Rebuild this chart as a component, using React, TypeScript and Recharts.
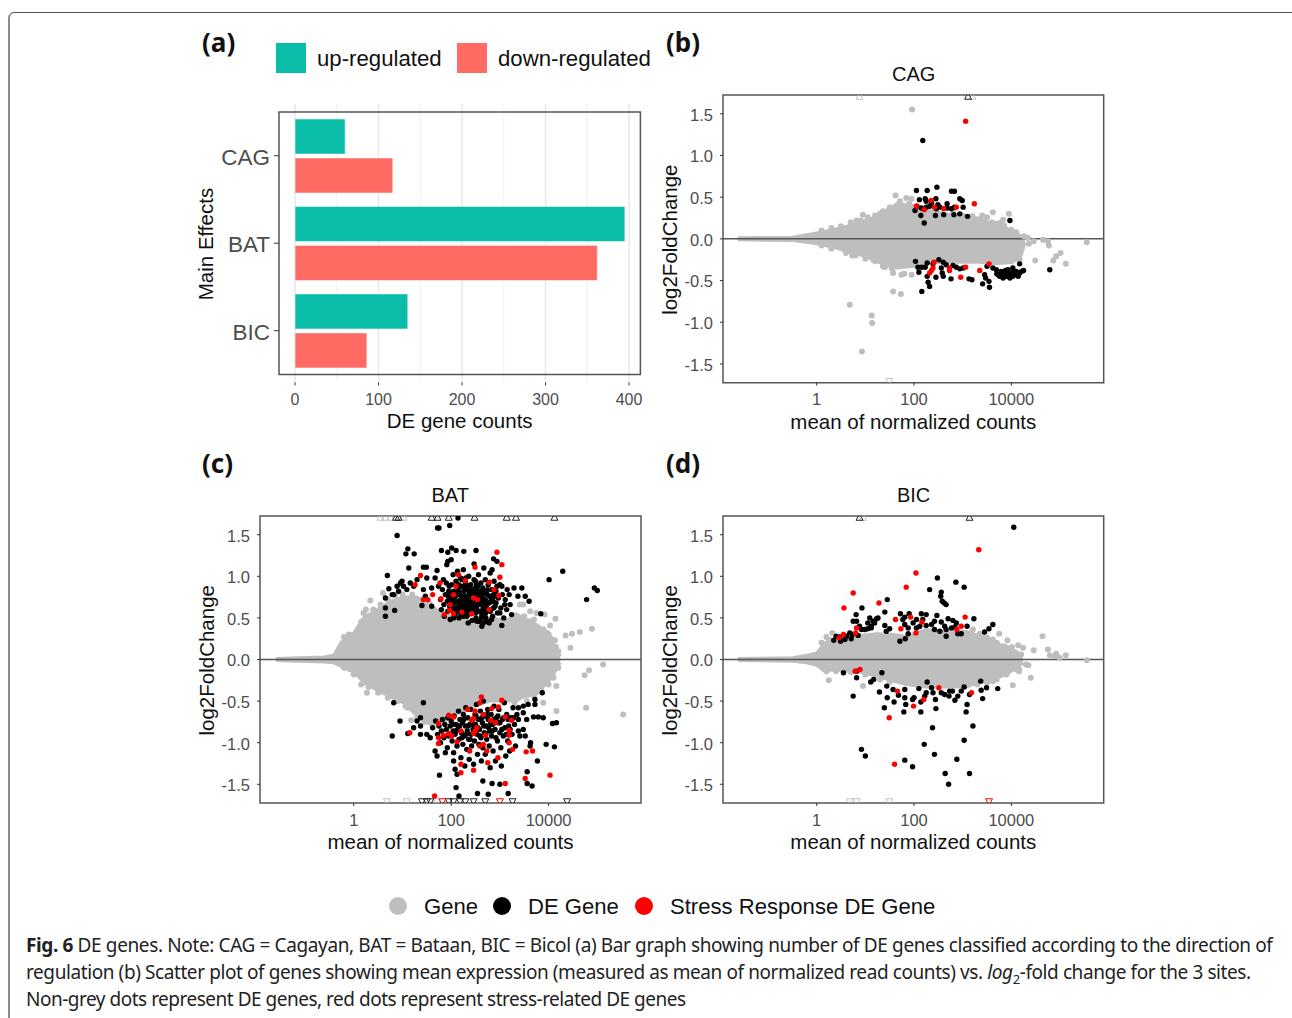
import React from 'react';
import { ComposedChart, BarChart, Bar, Area, Scatter, XAxis, YAxis, CartesianGrid, ReferenceLine, ReferenceArea } from 'recharts';

type P = [number, number];

const sites = ['CAG', 'BAT', 'BIC'];
const upCounts = [60, 395, 135];
const downCounts = [117, 362, 86];
const countTicks = [0, 100, 200, 300, 400];
const countMinor = [50, 150, 250, 350];
const foldTicks = [-1.5, -1, -0.5, 0, 0.5, 1, 1.5];
const log10Ticks = [0, 2, 4];

// Envelope of the dense grey cloud: [log10 mean count, low fold change, high fold change]
const cagCloud: [number, number, number][] = [[-1.62,-.012,.012],[-.49,-.02,.02],[-.21,-.04,.05],[0,-.06,.07],[.34,-.1,.11],[.61,-.15,.15],[.88,-.19,.2],[1.16,-.25,.25],[1.43,-.32,.32],[1.64,-.35,.42],[2,-.33,.4],[2.25,-.29,.35],[2.66,-.28,.3],[2.94,-.28,.26],[3.35,-.28,.25],[3.62,-.3,.17],[3.9,-.29,.13],[4.1,-.26,.07],[4.2,-.2,.03],[4.28,-.05,.02]];
const batCloud: [number, number, number][] = [[-1.6,-.012,.012],[-.61,-.03,.03],[-.41,-.04,.05],[-.27,-.08,.2],[-.14,-.12,.27],[0,-.15,.32],[.2,-.27,.5],[.48,-.37,.6],[.75,-.45,.7],[1.02,-.52,.75],[1.3,-.68,.75],[1.57,-.78,.65],[1.84,-.75,.55],[2.12,-.65,.5],[2.53,-.55,.45],[2.8,-.5,.5],[3.14,-.5,.47],[3.34,-.5,.55],[3.48,-.45,.5],[3.75,-.42,.42],[4.03,-.24,.28],[4.16,-.12,.12],[4.24,-.04,.04]];
const bicCloud: [number, number, number][] = [[-1.62,-.012,.012],[-.49,-.02,.02],[-.21,-.04,.05],[0,-.07,.08],[.13,-.13,.17],[.27,-.13,.25],[.47,-.13,.26],[.88,-.15,.29],[1.23,-.2,.31],[1.57,-.26,.3],[1.84,-.3,.28],[2.25,-.33,.36],[2.66,-.33,.33],[3.08,-.33,.34],[3.35,-.27,.28],[3.62,-.24,.2],[3.9,-.18,.16],[4.1,-.1,.1],[4.24,-.04,.04]];

const cagGrey: P[] = [[1.96,1.55],[.68,-.79],[1.13,-.92],[1.14,-1.01],[.93,-1.35],[1.57,-.63],[1.73,-.66],[5.55,-.04],[5.12,-.3],[5.01,-.17],[4.92,-.21],[4.86,-.26],[4.49,-.26],[4.77,-.08],[4.75,-.03],[4.65,-.01],[4.46,-.03],[4.36,-.06],[4.26,.03],[4.34,.01],[3.95,.3],[3.62,.32],[3.76,.19],[4.03,.08],[3.83,.23],[.95,.29],[.82,.22],[1.36,.33],[1.47,.34],[1.62,.52],[1.84,.49],[1.95,.48],[1.71,.45],[1.57,-.41],[1.74,-.43],[1.95,-.43],[1.36,-.33],[.71,-.11],[.73,-.2],[1.16,-.25],[4.17,-.25],[4,-.27],[3.76,-.27],
[.1,.1],[.3,.13],[.5,.15],[.7,.2],[.9,.22],[1.05,.26],[1.2,.28],[1.3,.3],[1.5,.38],[1.7,.4],[1.9,.42],[2.8,.32],[3,.28],[3.2,.27],[3.4,.28],[3.5,.26],[3.6,.2],[3.7,.18],[3.85,.16],[4,.11],[4.1,.08],[.1,-.08],[.3,-.12],[.6,-.17],[.8,-.2],[1,-.24],[1.2,-.27],[1.4,-.34],[1.55,-.36],[1.8,-.42]];
const cagBlack: P[] = [[2.18,1.18],[2.05,.58],[2.27,.58],[2.47,.62],[2.77,.57],[2.83,.57],[2.11,.47],[2.23,.48],[2.25,.45],[2.45,.48],[2.36,.43],[2.49,.41],[2.68,.42],[2.94,.48],[2.99,.46],[2.02,.34],[2.06,.39],[2.15,.37],[2.25,.38],[2.32,.39],[2.46,.36],[2.53,.38],[2.68,.37],[2.77,.36],[2.83,.38],[3.01,.38],[2.14,.28],[2.44,.28],[2.61,.29],[2.82,.29],[2.94,.3],[3.1,.27],[2.21,.19],[3.97,.22],[2.03,-.27],[2.08,-.34],[2.16,-.34],[2.23,-.34],[2.1,-.4],[2.27,-.29],[2.39,-.3],[2.51,-.25],[2.6,-.28],[2.66,-.31],[2.56,-.35],[2.58,-.41],[2.6,-.45],[2.27,-.45],[2.45,-.46],[2.29,-.52],[2.32,-.57],[2.16,-.63],[2.76,-.48],[2.8,-.32],[2.87,-.34],[2.94,-.36],[3.01,-.35],[3.13,-.48],[3.19,-.49],[3.41,-.54],[3.54,-.51],[3.55,-.58],[3.45,-.43],[3.47,-.47],[3.5,-.33],[3.62,-.35],[3.69,-.37],[3.73,-.43],[3.76,-.45],[3.79,-.39],[3.83,-.47],[3.86,-.41],[3.9,-.45],[3.93,-.37],[3.97,-.47],[4,-.41],[4.03,-.35],[4.03,-.45],[4.07,-.43],[4.1,-.39],[4.14,-.45],[4.17,-.41],[4.21,-.39],[4.25,-.38],[4.17,-.3],[4.79,-.37],[3.7,-.42],[3.8,-.44],[3.88,-.38],[3.95,-.42],[4.05,-.4],[4.12,-.42]];
const cagRed: P[] = [[3.06,1.41],[2.05,.39],[2.35,.46],[2.21,.35],[2.42,.38],[2.61,.36],[2.87,.38],[3.24,.42],[2.41,-.28],[2.39,-.35],[2.36,-.38],[2.32,-.41],[2.73,-.35],[2.73,-.38],[3.06,-.34],[2.96,-.46],[3.35,-.38],[3.54,-.3]];

const batGrey: P[] = [[5.53,-.66],[5.12,-.06],[4.83,-.13],[4.74,-.19],[4.77,-.58],[4.16,-.32],[4.16,-.62],[3.89,-.52],[4.89,.37],[4.64,.33],[4.48,.31],[4.35,.29],[4.45,.14],[4.14,.49],[4.03,.41],[3.92,.54],[3.75,.56],[3.62,.58],[3.56,.44],[3.62,.46],[3.48,.66],[3.41,.66],[3.97,.32],[4.13,.23],[.34,.71],[.6,.8],[.2,.56],[.25,.6],[.27,-.4],[.2,-.28],[1.18,-.73],[1.06,-.56],[3.89,-.28],
[-.2,.27],[-.1,.3],[.1,.38],[.15,.45],[.3,.52],[.4,.6],[.55,.66],[.7,.72],[.85,.77],[1,.78],[1.2,.78],[1.4,.72],[1.55,.68],[3.3,.5],[3.4,.45],[3.5,.52],[3.6,.42],[3.7,.48],[3.8,.38],[3.9,.36],[4,.3],[4.05,.25],[4.15,.15],[4.2,.1],[-.2,-.1],[0,-.18],[.15,-.3],[.3,-.33],[.5,-.4],[.7,-.46],[.9,-.5],[1.1,-.58],[1.3,-.7],[1.45,-.75],[3.3,-.52],[3.55,-.5],[3.7,-.44],[3.85,-.38],[4,-.3],[4.1,-.22],[4.2,-.1]];
const batBlack: P[] = [[.89,1.49],[1.72,1.58],[1.75,1.58],[1.97,1.61],[2.14,1.7],[1.11,1.33],[1.24,1.27],[1.07,1.27],[1.13,1.1],[.69,1.01],[.72,.85],[.65,.74],[.65,.62],[.65,.52],[.84,.59],[.89,.88],[.99,.94],[1.02,.88],[.92,.82],[.82,.78],[1.43,1.11],[1.49,1.11],[1.71,1.07],[1.8,1.31],[1.93,1.29],[2.01,1.34],[2.1,1.31],[2.26,1.3],[2.51,1.31],[1.93,1.18],[1.91,1.14],[2,1.2],[2.47,1.15],[2.87,1.21],[2.94,1.18],[2.84,1.08],[4.29,1.06],[4.01,.96],[4.78,.72],[4.94,.86],[5,.83],[3.84,.55],[3.6,.7],[3.45,.86],[3.29,.86],[3.37,.76],[3.52,.76],[3.19,.78],[3.04,.88],[3.04,.41],[3.24,.54],[3.14,.6],[3.21,.66],[3.11,.72],[3,.56],[2.9,.76],[2.87,.62],[2.83,.48],[2.73,.46],[2.63,.4],[2.66,.44],[2.53,.46],[2.35,.44],[2.25,.52],[.79,.78],[.96,.92],[1.09,.84],[1.16,.92],[1.23,.88],[1.3,.96],[1.43,.84],[1.5,.98],[1.6,.86],[1.67,.98],[1.6,.64],[1.4,.65],[1.47,.76],[1.74,.88],[1.84,.96],
[1.78,.72],[1.8,.6],[1.82,.84],[1.85,.66],[1.86,.52],[1.88,.78],[1.9,.92],[1.92,.7],[1.93,.58],[1.95,.82],[1.97,.64],[1.98,.48],[2,.74],[2.01,.9],[2.03,.6],[2.04,1.02],[2.05,.82],[2.06,.68],[2.08,.54],[2.09,.76],[2.1,.94],[2.12,.62],[2.13,1.06],[2.14,.86],[2.15,.7],[2.16,.5],[2.18,.78],[2.19,.98],[2.2,.64],[2.21,.88],[2.23,.72],[2.24,.56],[2.25,1.08],[2.26,.82],[2.27,.66],[2.29,.94],[2.3,.76],[2.31,.6],[2.32,.52],[2.33,.86],[2.35,.7],[2.36,1],[2.37,.8],[2.38,.62],[2.4,.9],[2.41,.74],[2.42,.56],[2.43,.47],[2.45,.84],[2.46,.68],[2.47,.96],[2.48,.6],[2.5,.78],[2.51,.5],[2.52,.9],[2.54,.7],[2.55,.58],[2.56,1.02],[2.57,.82],[2.58,.46],[2.6,.66],[2.61,.92],[2.62,.76],[2.63,.54],[2.65,.86],[2.66,.62],[2.67,1.1],[2.68,.72],[2.7,.96],[2.71,.5],[2.72,.8],[2.73,.58],[2.75,.68],[2.76,.9],[2.78,.44],[2.79,.76],[2.8,1.04],[2.82,.6],[2.83,.84],[2.85,.52],[2.86,.7],[2.88,.94],[2.9,.64],[2.92,.82],[2.95,.56],[2.97,.74],[3,.9],[3.02,.62],[3.05,.78],[3.08,.5],[3.1,.66],[3.15,.84],[1.96,.88],[2.02,.72],[2.07,.6],[2.11,.8],[2.17,.62],[2.22,.96],[2.28,.72],[2.34,.64],[2.39,.78],[2.44,.72],[2.49,.66],[2.53,.76],[2.59,.72],[2.64,.68],[2.69,.82],[2.74,.78],[2.81,.7],[2.87,.78],[2.25,.6],[2.35,.84],[2.45,.6],[2.55,.88],[2.65,.78],[2.15,.9],[2.05,.5],[2.3,.9],[2.4,.66],[2.5,.86],[2.6,.8],
[1.94,.76],[1.99,.68],[2.03,.8],[2.06,.62],[2.1,.7],[2.13,.58],[2.16,.66],[2.19,.72],[2.21,.6],[2.24,.68],[2.26,.76],[2.28,.64],[2.31,.68],[2.33,.58],[2.36,.72],[2.38,.7],[2.41,.62],[2.43,.8],[2.46,.76],[2.48,.82],[2.5,.7],[2.52,.62],[2.55,.66],[2.57,.76],[2.6,.58],[2.62,.68],[2.64,.82],[2.67,.58],[2.7,.72],[2.72,.64],[2.75,.84],[2.78,.68],[2.8,.58],[2.84,.76],[2.16,.82],[2.26,.88],[2.4,.84],[2.5,.94],[2.3,.98],[2.2,.54],[2.35,.54],[2.5,.56],[2.62,.5],[2.7,.55],[2.92,.68],[2.94,.88],
[.82,-.52],[.79,-.92],[.95,-.74],[1.11,-.89],[1.43,-.52],[1.3,-.74],[1.37,-.7],[1.23,-.82],[1.37,-.8],[1.37,-.9],[1.5,-.9],[1.57,-.94],[1.67,-1.1],[1.71,-1.16],[1.88,-1.12],[1.76,-1.39],[2.05,-1.22],[2.08,-1.32],[2.12,-1.38],[2.1,-1.54],[2.16,-1.64],[2.54,-1.61],[2.76,-1.62],[3.17,-1.61],[2.65,-1.46],[2.84,-1.49],[3,-1.5],[3.56,-1.49],[3.66,-1.52],[3.56,-1.35],[3.77,-1.22],[3.62,-1.04],[3.63,-1],[3.95,-1.02],[4.12,-1.05],[4.08,-.77],[4.16,-.76],[3.89,-.7],[3.79,-.69],[3.69,-.69],[3.87,-.4],[3.72,-.48],[3.72,-.54],[3.58,-.54],[3.48,-.56],[3.38,-.58],[3.48,-.64],[3.38,-.72],[3.55,-.72],[3.48,-.84],[3.52,-.92],[3.41,-.92],
[1.62,-.82],[1.68,-.74],[1.72,-.9],[1.75,-.8],[1.78,-1],[1.8,-.86],[1.82,-.72],[1.85,-.94],[1.87,-.78],[1.9,-.84],[1.92,-1.06],[1.93,-.7],[1.95,-.92],[1.98,-.8],[2,-.74],[2.02,-.98],[2.04,-.86],[2.05,-1.12],[2.06,-.68],[2.08,-.9],[2.1,-.78],[2.12,-1.04],[2.13,-.84],[2.15,-.62],[2.16,-.96],[2.18,-.72],[2.2,-1.18],[2.21,-.88],[2.23,-.76],[2.24,-1.02],[2.25,-.66],[2.27,-.92],[2.28,-1.28],[2.29,-.8],[2.3,-.58],[2.32,-1.08],[2.33,-.86],[2.34,-.7],[2.36,-.96],[2.37,-1.2],[2.38,-.78],[2.4,-.6],[2.41,-.9],[2.42,-1.04],[2.44,-.72],[2.45,-.84],[2.46,-1.26],[2.48,-.98],[2.49,-.66],[2.5,-.78],[2.52,-.54],[2.53,-.9],[2.54,-1.14],[2.56,-.72],[2.57,-1.02],[2.58,-.84],[2.6,-.62],[2.61,-.94],[2.62,-1.22],[2.64,-.76],[2.65,-1.06],[2.66,-.5],[2.68,-.88],[2.69,-.68],[2.7,-1.14],[2.72,-.8],[2.73,-.96],[2.75,-.6],[2.76,-.72],[2.78,-1.04],[2.79,-.86],[2.8,-1.3],[2.82,-.66],[2.83,-.92],[2.85,-.78],[2.86,-1.1],[2.88,-.56],[2.9,-.84],[2.91,-1.22],[2.93,-.7],[2.95,-.98],[2.97,-.76],[2.98,-.6],[3,-.88],[3.02,-1.06],[3.03,-1.28],[3.05,-.72],[3.07,-.92],[3.09,-.52],[3.1,-.82],[3.12,-1.16],[3.14,-.66],[3.16,-.98],[3.18,-.8],[3.2,-1.1],[3.22,-.7],[3.25,-.9],[3.27,-.58],[3.3,-.78],[3.32,-1.04],[3.35,-.66],[3.38,-.86],
[2.03,-.78],[2.1,-.86],[2.17,-.8],[2.22,-.94],[2.26,-.72],[2.31,-.9],[2.35,-.8],[2.39,-.96],[2.43,-.78],[2.47,-.86],[2.51,-.68],[2.55,-.82],[2.59,-.92],[2.63,-.7],[2.67,-.8],[2.71,-.9],[2.74,-.66],[2.77,-.82],[2.81,-.76],[2.84,-.86],[2.88,-.72],[2.92,-.94],[2.96,-.68],[3,-.76],[3.04,-.84],[3.08,-.7],[3.13,-.9],[3.17,-.72],[3.21,-.84],[3.28,-.7]];
const batRed: P[] = [[2.94,1.29],[3.04,1.14],[3,.99],[2.49,1.11],[2.15,1.02],[1.37,1.01],[1.26,.9],[1.43,.72],[1.52,.72],[1.62,.78],[1.77,.92],[1.79,.73],[1.98,.66],[1.97,.59],[2.05,.78],[2.1,.88],[2.29,.95],[2.46,.74],[2.54,.72],[2.42,.55],[2.22,.57],[2.05,.55],[1.86,.54],[2.78,.93],[2.88,.84],[2.98,.77],[2.78,.6],
[2.62,-.45],[2.59,-.52],[3.04,-.49],[2.97,-.57],[2.83,-.59],[2.49,-.62],[2.34,-.6],[1.95,-.67],[2.05,-.69],[2.46,-.71],[2.42,-.73],[2.66,-.66],[2.81,-.73],[2.91,-.76],[3.11,-.69],[3.24,-.73],[1.74,-.77],[1.15,-.88],[1.74,-.94],[1.84,-.91],[1.74,-1.01],[1.95,-.89],[2.01,-.92],[2.12,-.99],[2.2,-.86],[2.53,-.82],[2.49,-.86],[2.46,-.89],[2.7,-.91],[3.19,-.85],[3.19,-.91],[3.19,-1],[3.26,-1.08],[2.66,-1.02],[2.59,-1.04],[2.38,-1.1],[2.73,-1.1],[2.96,-1.18],[2.75,-1.24],[2.2,-1.26],[2.2,-1.36],[2.46,-1.33],[3.11,-1.49],[3.54,-1.11],[3.67,-1.1],[3.52,-1.43],[4.03,-1.39],[1.66,-1.64]];

const bicGrey: P[] = [[3.75,.31],[3.52,.24],[3.62,.24],[3.92,.23],[4.64,.28],[4.01,.15],[4.14,.17],[4.24,.14],[4.46,.11],[4.79,.05],[4.89,.04],[4.92,.07],[5.12,.05],[4.99,.02],[4.75,.12],[5.55,-.01],[4.35,-.07],[4.4,-.22],[4.16,-.12],[4.03,-.31],[3.62,-.26],[.25,-.25],[.95,-.32],[.32,.32],[3.76,-.16],[3.21,.36],[3.35,.31],
[.1,.2],[.2,.27],[3.4,.3],[3.5,.26],[3.7,.2],[3.85,.16],[4,.12],[4.2,.06],[.2,-.14],[.4,-.14],[.7,-.15],[1,-.18],[1.3,-.24],[1.5,-.27],[3.3,-.3],[3.5,-.28],[3.7,-.24],[3.9,-.18],[4.1,-.12],[4.3,-.06],[4.16,-.14]];
const bicBlack: P[] = [[4.05,1.59],[2.48,.98],[2.86,.93],[3.03,.87],[2.32,.84],[2.56,.81],[2.55,.76],[2.58,.7],[2.62,.68],[2.66,.66],[1.45,.72],[.93,.62],[.81,.54],[1.4,.57],[1.72,.55],[1.9,.55],[1.81,.51],[1.09,.5],[1.23,.49],[1.26,.5],[1.16,.46],[1.05,.44],[.75,.46],[.82,.46],[.88,.4],[1.12,.4],[1.19,.44],[1.4,.41],[1.43,.34],[1.5,.37],[.92,.36],[.99,.36],[1.05,.37],[1.12,.38],[.35,.23],[.4,.28],[.47,.27],[.49,.22],[.58,.24],[.61,.28],[.68,.32],[.73,.3],[.85,.29],[.71,.25],[1.77,.48],[1.81,.42],[1.88,.38],[1.98,.44],[2.05,.48],[2.15,.55],[2.25,.54],[2.18,.48],[2.05,.38],[2.12,.4],[2.25,.41],[2.36,.42],[2.42,.46],[2.47,.53],[2.56,.45],[2.7,.49],[2.8,.47],[2.87,.44],[2.63,.4],[2.42,.36],[2.53,.34],[2.66,.36],[2.77,.38],[2.84,.39],[2.66,.28],[2.9,.31],[2.97,.31],[3.09,.4],[3.23,.49],[3.45,.33],[3.54,.37],[3.62,.42],[1.71,.22],[1.82,.25],[1.88,.31],
[.55,-.16],[.82,-.22],[.75,-.44],[.82,-.14],[1.11,-.27],[1.17,-.24],[1.34,-.16],[1.29,-.39],[1.44,-.32],[1.45,-.46],[1.39,-.58],[1.57,-.36],[1.59,-.51],[1.68,-.43],[1.81,-.36],[1.81,-.46],[1.83,-.54],[1.79,-.63],[1.97,-.48],[2,-.46],[2.1,-.35],[2.14,-.51],[2.14,-.63],[2.22,-.44],[2.27,-.27],[2.25,-.4],[2.36,-.34],[2.39,-.4],[2.44,-.48],[2.45,-.59],[2.56,-.4],[2.63,-.42],[2.73,-.38],[2.79,-.38],[2.72,-.44],[2.84,-.49],[2.9,-.44],[2.97,-.38],[3.03,-.33],[3.09,-.54],[3.07,-.63],[3.14,-.42],[3.37,-.26],[3.38,-.37],[3.41,-.47],[3.49,-.34],[3.72,-.35],[3.21,-.8],[2.38,-.82],[3.03,-.97],[2.21,-1.02],[.92,-1.08],[1,-1.16],[2.42,-1.14],[2.88,-1.2],[1.81,-1.21],[1.97,-1.29],[2.64,-1.37],[3.14,-1.37],[2.71,-1.5]];
const bicRed: P[] = [[3.33,1.32],[2.04,1.04],[1.84,.87],[.75,.8],[.56,.62],[1.28,.68],[1.93,.51],[1.62,.48],[2.16,.45],[3.05,.51],[2.97,.4],[2.88,.36],[2.04,.32],[1.73,.37],[.82,.38],[.8,.32],[.55,.3],[.46,.26],[.79,-.14],[.89,-.12],[1.66,-.38],[2.51,-.34],[2.2,-.48],[1.99,-.56],[1.49,-.7],[1.6,-1.26],[3.18,-.4]];

// Genes beyond the fold-change limits, drawn as triangles along the plot edge
const cagCapGrey: P[] = [[.88,1.71],[3.2,1.71],[1.49,-1.71]];
const cagCapBlack: P[] = [[3.11,1.71]];
const cagCapRed: P[] = [];
const batCapGrey: P[] = [[.55,1.71],[.65,1.71],[.75,1.71],[1.02,1.71],[.68,-1.71],[1.09,-1.71],[1.71,-1.71]];
const batCapBlack: P[] = [[.87,1.71],[.92,1.71],[1.6,1.71],[1.72,1.71],[1.95,1.71],[2.48,1.71],[3.14,1.71],[3.33,1.71],[4.12,1.71],[1.4,-1.71],[1.5,-1.71],[1.57,-1.71],[1.95,-1.71],[2.05,-1.71],[2.18,-1.71],[2.29,-1.71],[2.46,-1.71],[2.7,-1.71],[3.26,-1.71],[4.38,-1.71]];
const batCapRed: P[] = [[1.82,-1.71],[3,-1.71]];
const bicCapGrey: P[] = [[.68,-1.71],[.82,-1.71],[1.49,-1.71],[.95,1.71]];
const bicCapBlack: P[] = [[.88,1.71],[3.14,1.71]];
const bicCapRed: P[] = [[3.54,-1.71]];

const TEAL = '#0ABDA8';
const SALMON = '#FF6A63';
const GREY = '#BEBEBE';
const RED = '#FF0000';
const AXIS = '#4D4D4D';
const BORDER = '#555555';
const SANS = '"Liberation Sans", Arial, sans-serif';
const NOTO = '"Noto Sans", sans-serif';

const toPoints = (arr: P[]) => arr.map(([lx, y]) => ({ lx, y }));
const dot = (r: number, fill: string) => (p: any) => <circle cx={p.cx} cy={p.cy} r={r} fill={fill} />;
const tri = (stroke: string) => (p: any) => {
  const d = p.payload.y > 0 ? 1 : -1;
  return <path d={`M${p.cx - 3.5} ${p.cy + d * 3}L${p.cx + 3.5} ${p.cy + d * 3}L${p.cx} ${p.cy - d * 3.5}Z`} fill="none" stroke={stroke} strokeWidth={1} />;
};

const XMIN = -1.925, XMAX = 5.897, YLIM = 1.725;

function MAPanel({ left, top, width, height, title, cloud, grey, black, red, capGrey, capBlack, capRed }: any) {
  const m = { l: 130, t: 10, r: 10, b: 60 };
  const band = cloud.map(([lx, lo, hi]: number[]) => ({ lx, band: [lo, hi] }));
  return (
    <>
      <div style={{ position: 'absolute', left, width, top: top - 33, textAlign: 'center', fontFamily: SANS, fontSize: 20, lineHeight: '24px', color: '#111' }}>{title}</div>
      <div style={{ position: 'absolute', left: left - m.l, top: top - m.t }}>
        <ComposedChart width={width + m.l + m.r} height={height + m.t + m.b} margin={{ top: m.t, right: m.r, left: 0, bottom: 0 }}>
          <XAxis type="number" dataKey="lx" domain={[XMIN, XMAX]} ticks={log10Ticks} tickFormatter={(v: number) => String(Math.round(10 ** v))} height={m.b} axisLine={false} tickSize={3} tickLine={{ stroke: '#333' }} tick={{ fontSize: 16.5, fill: AXIS, fontFamily: SANS }} tickMargin={8} allowDataOverflow label={{ value: 'mean of normalized counts', position: 'insideBottom', offset: 14, style: { fontSize: 20.5, fill: '#111', fontFamily: SANS } }} />
          <YAxis type="number" dataKey="y" domain={[-YLIM, YLIM]} ticks={foldTicks} tickFormatter={(v: number) => v.toFixed(1)} width={m.l} axisLine={false} tickSize={3} tickLine={{ stroke: '#333' }} tick={{ fontSize: 16.5, fill: AXIS, fontFamily: SANS, dy: 1 }} tickMargin={7} allowDataOverflow label={{ value: 'log2FoldChange', angle: -90, position: 'insideLeft', offset: 77, dy: 76, style: { fontSize: 20.5, fill: '#111', fontFamily: SANS } }} />
          <Area data={band} dataKey="band" type="linear" fill={GREY} fillOpacity={1} stroke={GREY} strokeWidth={3} dot={false} activeDot={false} isAnimationActive={false} />
          <Scatter data={toPoints(grey)} shape={dot(3, GREY)} isAnimationActive={false} />
          <ReferenceLine y={0} stroke={BORDER} strokeWidth={1.5} />
          <Scatter data={toPoints(capGrey)} shape={tri('#C4C4C4')} isAnimationActive={false} />
          <Scatter data={toPoints(capBlack)} shape={tri('#222222')} isAnimationActive={false} />
          <Scatter data={toPoints(capRed)} shape={tri(RED)} isAnimationActive={false} />
          <Scatter data={toPoints(black)} shape={dot(2.7, '#000000')} isAnimationActive={false} />
          <Scatter data={toPoints(red)} shape={dot(2.7, RED)} isAnimationActive={false} />
          <ReferenceArea x1={XMIN} x2={XMAX} y1={-YLIM} y2={YLIM} fill="none" stroke={BORDER} strokeWidth={1.5} />
        </ComposedChart>
      </div>
    </>
  );
}

function CountPanel() {
  const data = sites.map((site, i) => ({ site, up: upCounts[i], down: downCounts[i] }));
  const m = { l: 140, t: 10, r: 10, b: 60 };
  const w = 361.4, h = 278.4, left = 279.3, top = 104.3;
  return (
    <div style={{ position: 'absolute', left: left - m.l, top: top - m.t }}>
      <BarChart layout="vertical" data={data} width={w + m.l + m.r} height={h + m.t + m.b} margin={{ top: m.t, right: m.r, left: 0, bottom: 0 }} barSize={35} barGap={4}>
        <CartesianGrid horizontal={false} verticalValues={countMinor} stroke="#F0F0F0" strokeWidth={1} />
        <CartesianGrid horizontal={false} verticalValues={countTicks} stroke="#E8E8E8" strokeWidth={1.5} />
        <XAxis type="number" domain={[-19.2, 413.6]} ticks={countTicks} height={m.b} axisLine={false} tickSize={3} tickLine={{ stroke: '#333' }} tick={{ fontSize: 16, fill: AXIS, fontFamily: SANS }} tickMargin={8} allowDataOverflow label={{ value: 'DE gene counts', position: 'insideBottom', offset: 14, style: { fontSize: 20.5, fill: '#111', fontFamily: SANS } }} />
        <YAxis type="category" dataKey="site" width={m.l} padding={{ top: 8, bottom: 8 }} axisLine={false} tickSize={5} tickLine={{ stroke: '#333' }} tick={{ fontSize: 22.5, fill: AXIS, fontFamily: SANS, dy: 1 }} tickMargin={4} label={{ value: 'Main Effects', angle: -90, position: 'insideLeft', offset: 67, dy: 57, style: { fontSize: 20.5, fill: '#111', fontFamily: SANS } }} />
        <Bar dataKey="up" fill={TEAL} stroke="#FFFFFF" strokeOpacity={0.5} isAnimationActive={false} />
        <Bar dataKey="down" fill={SALMON} stroke="#FFFFFF" strokeOpacity={0.5} isAnimationActive={false} />
        <ReferenceArea x1={-19.2} x2={413.6} fill="none" stroke={BORDER} strokeWidth={1.5} />
      </BarChart>
    </div>
  );
}

const letter = (t: string, x: number, y: number) => (
  <div style={{ position: 'absolute', left: x, top: y, fontFamily: NOTO, fontWeight: 700, fontSize: 26, lineHeight: '32px', color: '#111' }}>{t}</div>
);
const swatch = (x: number, color: string) => <div style={{ position: 'absolute', left: x, top: 43, width: 29.5, height: 29.5, background: color }} />;
const legendText = (t: string, x: number, y: number, size: number) => (
  <div style={{ position: 'absolute', left: x, top: y, fontFamily: SANS, fontSize: size, lineHeight: '30px', color: '#111', whiteSpace: 'nowrap' }}>{t}</div>
);
const legendDot = (x: number, color: string) => <div style={{ position: 'absolute', left: x - 9, top: 897, width: 18, height: 18, borderRadius: 9, background: color }} />;
const captionLine = (y: number, spacing: number, children: React.ReactNode) => (
  <div style={{ position: 'absolute', left: 26, top: y, fontFamily: NOTO, fontSize: 19, lineHeight: '26px', color: '#222', whiteSpace: 'nowrap', letterSpacing: spacing }}>{children}</div>
);

export default function App() {
  return (
    <div style={{ position: 'absolute', left: 0, top: 0, width: 1292, height: 1018, overflow: 'hidden', background: '#fff' }}>
      <div style={{ position: 'absolute', left: 8, top: 12, width: 1300, height: 1020, borderLeft: '2px solid #8A8A8A', borderTop: '1px solid #555', borderTopLeftRadius: 6 }} />
      {letter('(a)', 202, 26)}
      {letter('(b)', 666, 26)}
      {letter('(c)', 202, 447)}
      {letter('(d)', 666, 447)}
      {swatch(276, TEAL)}
      {legendText('up-regulated', 317, 44, 22.2)}
      {swatch(457.3, SALMON)}
      {legendText('down-regulated', 498, 44, 22.2)}
      <CountPanel />
      <MAPanel left={723.3} top={95} width={380.7} height={287.7} title="CAG" cloud={cagCloud} grey={cagGrey} black={cagBlack} red={cagRed} capGrey={cagCapGrey} capBlack={cagCapBlack} capRed={cagCapRed} />
      <MAPanel left={259.7} top={516.3} width={381} height={287} title="BAT" cloud={batCloud} grey={batGrey} black={batBlack} red={batRed} capGrey={batCapGrey} capBlack={batCapBlack} capRed={batCapRed} />
      <MAPanel left={723.3} top={516.3} width={380.7} height={287} title="BIC" cloud={bicCloud} grey={bicGrey} black={bicBlack} red={bicRed} capGrey={bicCapGrey} capBlack={bicCapBlack} capRed={bicCapRed} />
      {legendDot(398, GREY)}
      {legendText('Gene', 424, 892, 22.1)}
      {legendDot(502, '#000')}
      {legendText('DE Gene', 528, 892, 22.1)}
      {legendDot(644, RED)}
      {legendText('Stress Response DE Gene', 670, 892, 22.1)}
      {captionLine(932, -0.375, <><b>Fig. 6</b> DE genes. Note: CAG = Cagayan, BAT = Bataan, BIC = Bicol (a) Bar graph showing number of DE genes classified according to the direction of</>)}
      {captionLine(959, -0.41, <>regulation (b) Scatter plot of genes showing mean expression (measured as mean of normalized read counts) vs. <i>log</i><sub style={{ fontSize: 13, lineHeight: 0 }}>2</sub>-fold change for the 3 sites.</>)}
      {captionLine(986, -0.49, <>Non-grey dots represent DE genes, red dots represent stress-related DE genes</>)}
    </div>
  );
}
